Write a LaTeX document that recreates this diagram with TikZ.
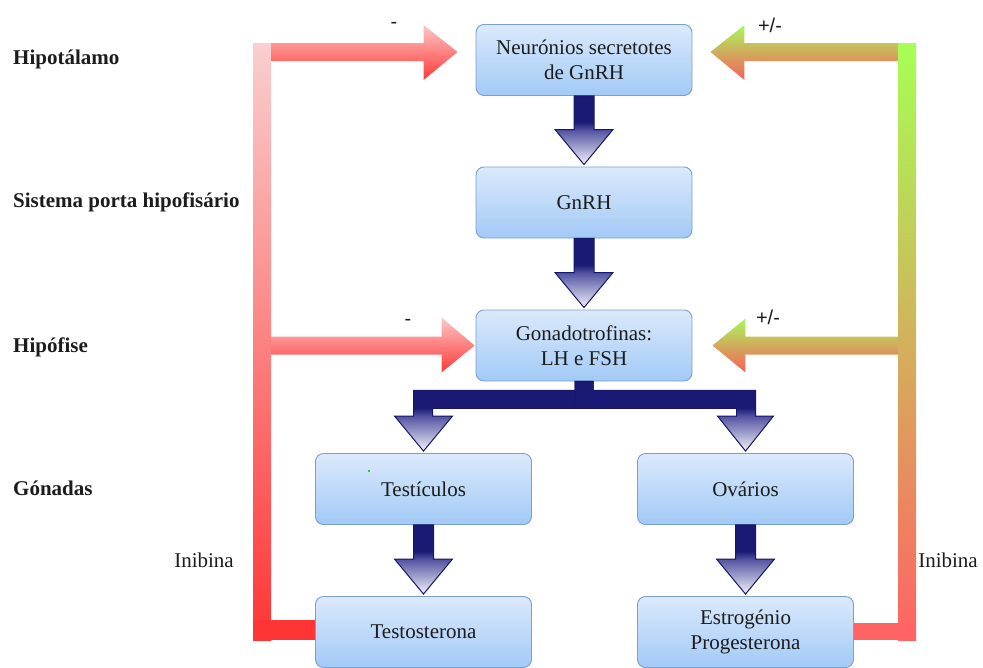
\documentclass[tikz,border=0pt]{standalone}
\usepackage{fontspec}
\setmainfont{Liberation Serif}
\newfontfamily\signfont{Liberation Sans}
\usetikzlibrary{calc}

\definecolor{boxtop}{HTML}{DBE9FC}
\definecolor{boxbottom}{HTML}{A2CAF6}
\definecolor{boxline}{HTML}{7C9ED2}
\definecolor{inktext}{HTML}{1C1C1C}
\definecolor{arrowline}{HTML}{16166A}
\definecolor{arrowdark}{HTML}{1A1A74}
\definecolor{arrowmid}{HTML}{5454A2}
\definecolor{arrowtip}{HTML}{F2F2FA}
\definecolor{redpale}{HTML}{F9CFCF}
\definecolor{redstrong}{HTML}{FF3535}
\definecolor{redarmtop}{HTML}{FCC8C8}
\definecolor{redarmbottom}{HTML}{FF3838}
\definecolor{greentop}{HTML}{A6FF55}
\definecolor{redlow}{HTML}{FF6363}
\definecolor{greenarm}{HTML}{A8F85A}
\definecolor{redarm}{HTML}{FA5E5E}

% navy block arrows: dark shaft, head fading to a pale tip
\pgfdeclareverticalshading{navyfade}{100bp}{%
  color(0bp)=(arrowtip); color(25bp)=(arrowtip);
  color(50bp)=(arrowmid); color(56bp)=(arrowdark);
  color(75bp)=(arrowdark); color(100bp)=(arrowdark)}

\tikzset{
  stage/.style={draw=boxline, line width=0.9pt, rounded corners=8pt,
    top color=boxtop, bottom color=boxbottom, minimum width=216pt,
    minimum height=71pt, align=center, text=inktext,
    font=\fontsize{21}{25}\selectfont},
  level/.style={anchor=base west, inner sep=0pt, text=inktext,
    font=\bfseries\fontsize{21}{25}\selectfont},
  note/.style={inner sep=0pt, text=inktext, font=\fontsize{21}{25}\selectfont},
  sign/.style={inner sep=0pt, text=inktext, font=\signfont\fontsize{20}{24}\selectfont},
  navyblock/.style={shade, shading=navyfade, draw=arrowline, line width=1pt,
    line join=miter},
  redbar/.style={shade, top color=redpale, bottom color=redstrong},
  greenbar/.style={shade, top color=greentop, bottom color=redlow},
  redarrow/.style={shade, top color=redarmtop, bottom color=redarmbottom},
  greenarrow/.style={shade, top color=greenarm, bottom color=redarm},
}

% straight downward block arrow from one box to the box below it
\newcommand\blockdown[2]{%
  \path[navyblock] ($(#1.south)+(-10,0)$) -- ($(#1.south)+(10,0)$)
    -- ($(#2.north)+(10,-37)$) -- ($(#2.north)+(29,-37)$)
    -- ($(#2.north)+(0,-2)$) -- ($(#2.north)+(-29,-37)$)
    -- ($(#2.north)+(-10,-37)$) -- cycle;}

\begin{document}
\begin{tikzpicture}[x=1pt,y=-1pt]
\useasboundingbox (0,0) rectangle (983,667);

% level labels
\node[level] (lhypo) at (13,64) {Hipotálamo};
\node[level] (lporta) at (13,207) {Sistema porta hipofisário};
\node[level] (lhypoph) at (13,352) {Hipófise};
\node[level] (lgonad) at (13,495) {Gónadas};

% boxes
\node[stage] (neuro) at (584,60) {Neurónios secretotes\\de GnRH};
\node[stage] (gnrh) at (584,202.5) {GnRH};
\node[stage] (gonado) at (584,345.5) {Gonadotrofinas:\\LH e FSH};
\node[stage] (testis) at (423.5,489) {Testículos};
\node[stage] (ovary) at (745.5,489) {Ovários};
\node[stage] (testo) at (423.5,632) {Testosterona};
\node[stage] (estro) at (745.5,632) {Estrogénio\\Progesterona};
\fill[green!70!black] (369,471) circle (1.1pt);

% main cascade
\blockdown{neuro}{gnrh}
\blockdown{gnrh}{gonado}
\blockdown{testis}{testo}
\blockdown{ovary}{estro}

% split of the gonadotrofins towards both gonads
\path[navyblock] ($(gonado.south)+(-9,0)$) -- ($(gonado.south)+(9,0)$)
  -- ($(gonado.south)+(9,27)$) -- ($(testis.north |- gonado.south)+(9,27)$)
  -- ($(testis.north)+(9,-37)$) -- ($(testis.north)+(29,-37)$)
  -- ($(testis.north)+(0,-2)$) -- ($(testis.north)+(-29,-37)$)
  -- ($(testis.north)+(-10,-37)$) -- ($(testis.north |- gonado.south)+(-10,9)$)
  -- ($(gonado.south)+(-9,9)$) -- cycle;
\path[navyblock] ($(gonado.south)+(-9,0)$) -- ($(gonado.south)+(9,0)$)
  -- ($(gonado.south)+(9,9)$) -- ($(ovary.north |- gonado.south)+(10,9)$)
  -- ($(ovary.north)+(10,-37)$) -- ($(ovary.north)+(28,-37)$)
  -- ($(ovary.north)+(0,-2)$) -- ($(ovary.north)+(-28,-37)$)
  -- ($(ovary.north)+(-9,-37)$) -- ($(ovary.north |- gonado.south)+(-9,27)$)
  -- ($(gonado.south)+(-9,27)$) -- cycle;

% feedback rails
\coordinate (lt) at (262,52);
\coordinate (lb) at (262,630);
\coordinate (rt) at (907,52);
\coordinate (rb) at (907,631);
\coordinate (ltip) at ($(neuro.west)+(-18,-8)$);
\coordinate (lmtip) at ($(gonado.west)+(-1,0)$);
\coordinate (rtip) at ($(neuro.east)+(18,-8)$);
\coordinate (rmtip) at ($(gonado.east)+(20,0)$);

% male branch (testosterone, inhibin): negative feedback
\path[redbar] ($(lt)+(-9,-9)$) rectangle ($(lb)+(9,10)$);
\fill[redstrong] ($(lb)+(-9,-10)$) rectangle ($(testo.west)+(0,8)$);
\path[redarrow] ($(lt)+(9,-9)$) -- ($(ltip)+(-34,-9)$) -- ($(ltip)+(-34,-27)$)
  -- (ltip) -- ($(ltip)+(-34,28)$) -- ($(ltip)+(-34,9)$) -- ($(lt)+(9,9)$) -- cycle;
\path[redarrow] ($(lt |- lmtip)+(9,-9)$) -- ($(lmtip)+(-33,-9)$) -- ($(lmtip)+(-33,-28)$)
  -- (lmtip) -- ($(lmtip)+(-33,27)$) -- ($(lmtip)+(-33,9)$) -- ($(lt |- lmtip)+(9,9)$) -- cycle;

% female branch (oestrogen, progesterone, inhibin): mixed feedback
\path[greenbar] ($(rt)+(-9,-9)$) rectangle ($(rb)+(9,9)$);
\fill[redlow] ($(estro.east)+(0,-9)$) rectangle ($(rb)+(9,9)$);
\path[greenarrow] ($(rt)+(-9,-9)$) -- ($(rtip)+(34,-9)$) -- ($(rtip)+(34,-27)$)
  -- (rtip) -- ($(rtip)+(34,28)$) -- ($(rtip)+(34,9)$) -- ($(rt)+(-9,9)$) -- cycle;
\path[greenarrow] ($(rt |- rmtip)+(-9,-9)$) -- ($(rmtip)+(33,-9)$) -- ($(rmtip)+(33,-27)$)
  -- (rmtip) -- ($(rmtip)+(33,27)$) -- ($(rmtip)+(33,9)$) -- ($(rt |- rmtip)+(-9,9)$) -- cycle;

% feedback signs and labels
\node[sign] (s1) at (394,25) {-};
\node[sign] (s2) at (408,322) {-};
\node[sign] (s3) at (770,25) {+/-};
\node[sign] (s4) at (768,317) {+/-};
\node[note] (inhl) at (204,560) {Inibina};
\node[note] (inhr) at (948,560) {Inibina};
\end{tikzpicture}
\end{document}
